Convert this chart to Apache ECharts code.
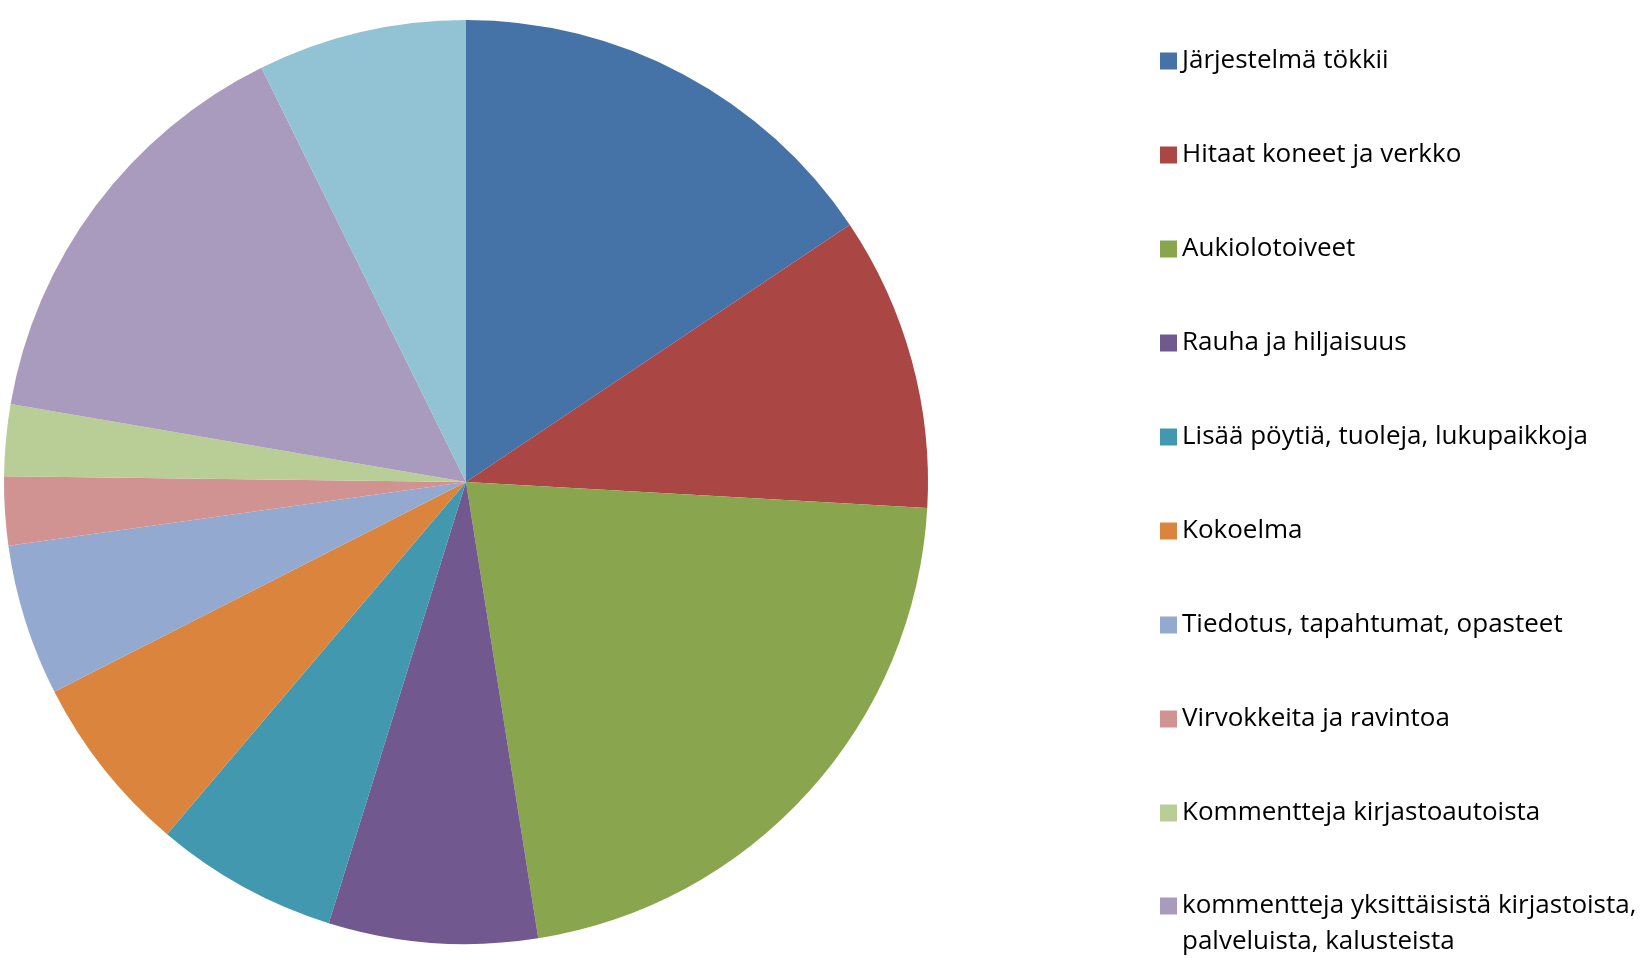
<!DOCTYPE html>
<html>
<head>
<meta charset="utf-8">
<title>Palaute</title>
<script src="https://cdn.jsdelivr.net/npm/echarts@6/dist/echarts.min.js"></script>
<style>
  html, body { margin: 0; padding: 0; background: #fff; }
  #chart { width: 1649px; height: 958px; }
</style>
</head>
<body>
<div id="chart"></div>
<script>
  // aiheet (viimeinen viipale jää selitteen ulkopuolelle, kuten kuvassa)
  var categories = [
    'Järjestelmä tökkii',
    'Hitaat koneet ja verkko',
    'Aukiolotoiveet',
    'Rauha ja hiljaisuus',
    'Lisää pöytiä, tuoleja, lukupaikkoja',
    'Kokoelma',
    'Tiedotus, tapahtumat, opasteet',
    'Virvokkeita ja ravintoa',
    'Kommentteja kirjastoautoista',
    'kommentteja yksittäisistä kirjastoista,\npalveluista, kalusteista',
    ''
  ];
  // osuudet (%), luettu kuvasta
  var values = [15.6, 10.3, 21.6, 7.3, 6.4, 6.3, 5.3, 2.4, 2.5, 15.0, 7.3];
  var colors = ['#4572a7', '#aa4643', '#89a54e', '#71588f', '#4198af', '#db843d',
                '#93a9cf', '#d19392', '#b9cd96', '#a99bbd', '#92c3d4'];

  var chart = echarts.init(document.getElementById('chart'));

  var pieData = [];
  for (var j = 0; j < values.length; j++) {
    pieData.push({ name: categories[j], value: values[j], itemStyle: { color: colors[j] } });
  }

  var legendText = {
    fontFamily: 'Open Sans',
    fontSize: 26,
    color: '#000',
    lineHeight: 36
  };

  chart.setOption({
    animation: false,
    legend: [
      {
        orient: 'vertical',
        left: 1160,
        top: 43,
        padding: 0,
        height: 900,
        icon: 'rect',
        itemWidth: 17,
        itemHeight: 17,
        itemGap: 58,
        selectedMode: false,
        textStyle: legendText,
        data: categories.slice(0, 9)
      },
      {
        // kaksirivinen nimi: tyhjä rivi alkuun, jotta ensimmäinen rivi osuu merkin kohdalle
        orient: 'vertical',
        left: 1160,
        top: 852,
        padding: 0,
        height: 200,
        icon: 'rect',
        itemWidth: 17,
        itemHeight: 17,
        selectedMode: false,
        textStyle: legendText,
        formatter: function (name) { return '\n' + name; },
        data: [categories[9]]
      }
    ],
    series: [
      {
        type: 'pie',
        center: [466, 482],
        radius: 462,
        startAngle: 90,
        clockwise: true,
        label: { show: false },
        labelLine: { show: false },
        emphasis: { disabled: true },
        itemStyle: { borderWidth: 0 },
        data: pieData
      }
    ]
  });
</script>
</body>
</html>
